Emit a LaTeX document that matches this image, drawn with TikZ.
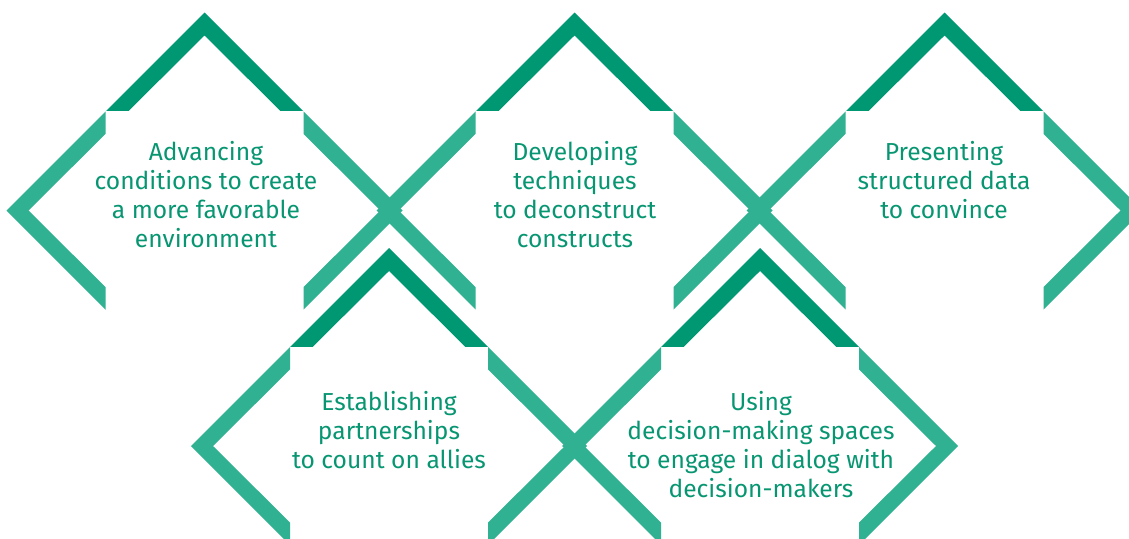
\documentclass[tikz,border=0pt]{standalone}
\usepackage{fontspec}
\setmainfont{Fira Sans}
\definecolor{gemdark}{RGB}{0,152,115}
\definecolor{gemlight}{RGB}{48,177,145}
\definecolor{gemtext}{RGB}{8,150,114}

% band between the outer and inner diamond around (#1,#2)
\newcommand\gemband[2]{%
  (#1,#2-198) -- (#1+198,#2) -- (#1,#2+198) -- (#1-198,#2) -- cycle
  (#1,#2-175) -- (#1+176,#2) -- (#1,#2+175) -- (#1-176,#2) -- cycle}

% open diamond frame: dark top chevron, light left and right chevrons
\newcommand\gemframe[2]{%
  \begin{scope}
    \clip (#1-200,#2-200) rectangle (#1+200,#2-100);
    \fill[gemdark,even odd rule] \gemband{#1}{#2};
  \end{scope}
  \begin{scope}
    \clip (#1-200,#2-200) rectangle (#1-99,#2+200);
    \fill[gemlight,even odd rule] \gemband{#1}{#2};
  \end{scope}
  \begin{scope}
    \clip (#1+99,#2-200) rectangle (#1+200,#2+200);
    \fill[gemlight,even odd rule] \gemband{#1}{#2};
  \end{scope}}

\tikzset{
  gemlabel/.style={text=gemtext, align=center, anchor=north, inner sep=0pt,
    font=\fontsize{24.6}{29.0}\selectfont}
}

\begin{document}
\begin{tikzpicture}[x=1pt,y=-1pt]
  \useasboundingbox (0,0) rectangle (1129,538);
  \begin{scope}
    \clip (0,0) rectangle (1129,538);
    \gemframe{204.5}{210.5}
    \gemframe{574.5}{210.5}
    \gemframe{944.5}{210.5}
    \gemframe{389}{446}
    \gemframe{760}{446}
  \end{scope}

  \node[gemlabel] (advancing) at (206,141.5) {Advancing\\conditions to create\\a more favorable\\environment};
  \node[gemlabel] (developing) at (575,141.5) {Developing\\techniques\\to deconstruct\\constructs};
  \node[gemlabel] (presenting) at (944,141.5) {Presenting\\structured data\\to convince};
  \node[gemlabel] (establishing) at (389,391.5) {Establishing\\partnerships\\to count on allies};
  \node[gemlabel] (using) at (761,391.5) {Using\\decision-making spaces\\to engage in dialog with\\decision-makers};
\end{tikzpicture}
\end{document}
